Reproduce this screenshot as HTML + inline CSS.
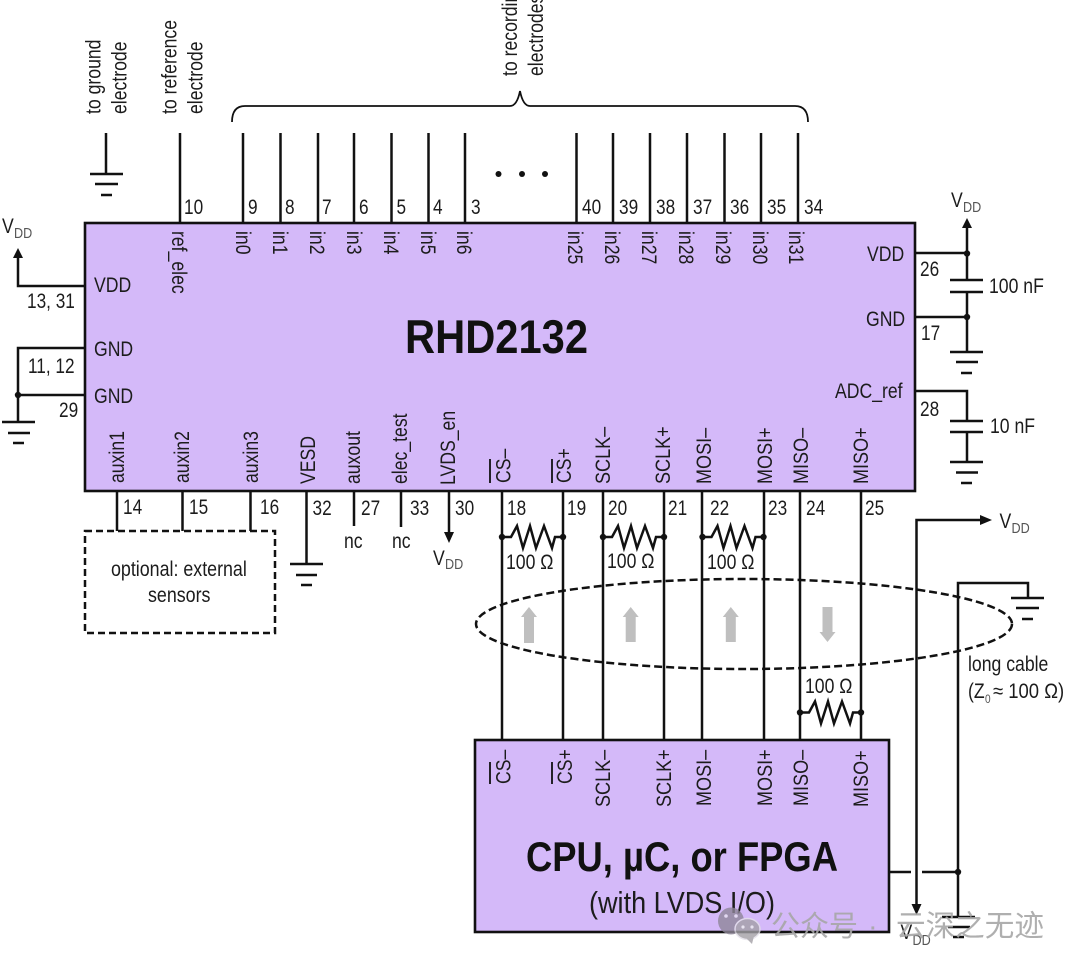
<!DOCTYPE html>
<html><head><meta charset="utf-8">
<style>
html,body{margin:0;padding:0;background:#fff;}
svg{display:block;filter:blur(.35px);}
text{font-family:"Liberation Sans","Noto Sans CJK SC",sans-serif;font-size:21px;fill:#1c1c1c;}
.l{stroke:#111;stroke-width:2.5;fill:none;}
.t{stroke:#111;stroke-width:1.8;fill:none;}
.s{font-size:15px;fill:#555;}
.a{fill:#111;}
.g{fill:#bfbfbf;}
</style></head>
<body>
<svg width="1080" height="969" viewBox="0 0 1080 969" xmlns="http://www.w3.org/2000/svg">
<rect width="1080" height="969" fill="#fff"/>
<!-- chips -->
<rect x="85" y="223" width="830" height="268" fill="#d4b9f9" stroke="#111" stroke-width="2.6"/>
<rect x="475" y="740" width="414" height="192" fill="#d4b9f9" stroke="#111" stroke-width="2.6"/>
<!-- top pins -->
<path class="l" d="M106 133V174M90 174H123M95 184H118M101 195H112
M180 133V223M243 133V223M280.5 133V223M318 133V223M354 133V223M391.5 133V223M428.5 133V223M465 133V223
M576.5 133V223M613 133V223M650 133V223M687 133V223M724.5 133V223M761 133V223M798 133V223"/>
<path class="t" d="M232 122Q232 106 245 106L510 106Q517 106 520 91Q523 106 530 106L795 106Q808 106 808 122"/>
<circle class="a" cx="498.500" cy="174" r="3"/><circle class="a" cx="522" cy="174" r="3"/><circle class="a" cx="545" cy="174" r="3"/>
<!-- top labels -->
<text transform="translate(100.500 114) rotate(-90) scale(.84 1)">to ground</text>
<text transform="translate(126.500 114) rotate(-90) scale(.84 1)">electrode</text>
<text transform="translate(176.500 114) rotate(-90) scale(.84 1)">to reference</text>
<text transform="translate(202.500 114) rotate(-90) scale(.84 1)">electrode</text>
<text transform="translate(517 76) rotate(-90) scale(.84 1)">to recording</text>
<text transform="translate(543 76) rotate(-90) scale(.84 1)">electrodes</text>
<!-- top numbers -->
<text transform="translate(184 214) scale(.82 1)">10</text>
<text transform="translate(248 214) scale(.82 1)">9</text>
<text transform="translate(285 214) scale(.82 1)">8</text>
<text transform="translate(322 214) scale(.82 1)">7</text>
<text transform="translate(359 214) scale(.82 1)">6</text>
<text transform="translate(396.500 214) scale(.82 1)">5</text>
<text transform="translate(433 214) scale(.82 1)">4</text>
<text transform="translate(471 214) scale(.82 1)">3</text>
<text transform="translate(582 214) scale(.82 1)">40</text>
<text transform="translate(619 214) scale(.82 1)">39</text>
<text transform="translate(656 214) scale(.82 1)">38</text>
<text transform="translate(693 214) scale(.82 1)">37</text>
<text transform="translate(730 214) scale(.82 1)">36</text>
<text transform="translate(767 214) scale(.82 1)">35</text>
<text transform="translate(804 214) scale(.82 1)">34</text>
<!-- inputs -->
<text transform="translate(172 231) rotate(90) scale(.84 1)">ref_elec</text>
<text transform="translate(236 231) rotate(90) scale(.84 1)">in0</text>
<text transform="translate(273 231) rotate(90) scale(.84 1)">in1</text>
<text transform="translate(310 231) rotate(90) scale(.84 1)">in2</text>
<text transform="translate(347 231) rotate(90) scale(.84 1)">in3</text>
<text transform="translate(384 231) rotate(90) scale(.84 1)">in4</text>
<text transform="translate(421 231) rotate(90) scale(.84 1)">in5</text>
<text transform="translate(457 231) rotate(90) scale(.84 1)">in6</text>
<text transform="translate(568 231) rotate(90) scale(.84 1)">in25</text>
<text transform="translate(605 231) rotate(90) scale(.84 1)">in26</text>
<text transform="translate(642 231) rotate(90) scale(.84 1)">in27</text>
<text transform="translate(679 231) rotate(90) scale(.84 1)">in28</text>
<text transform="translate(716 231) rotate(90) scale(.84 1)">in29</text>
<text transform="translate(753 231) rotate(90) scale(.84 1)">in30</text>
<text transform="translate(789 231) rotate(90) scale(.84 1)">in31</text>
<!-- titles -->
<text x="405" y="353" textLength="183" lengthAdjust="spacingAndGlyphs" style="font-size:47px;font-weight:bold;fill:#111">RHD2132</text>
<text x="526" y="871" textLength="312" lengthAdjust="spacingAndGlyphs" style="font-size:42px;font-weight:bold;fill:#111">CPU, µC, or FPGA</text>
<text x="589" y="913" textLength="186" lengthAdjust="spacingAndGlyphs" style="font-size:31px">(with LVDS I/O)</text>
<!-- left side -->
<path class="l" d="M18 257V286H85M85 348H18V422M18 395H85M2 422H35M8 433H30M13 443H24"/>
<path class="a" d="M18 248L23 258H13Z"/>
<circle class="a" cx="18" cy="395" r="3.200"/>
<text transform="translate(2 233) scale(.84 1)">V</text><text class="s" transform="translate(14 238) scale(.84 1)">DD</text>
<text transform="translate(94 292) scale(.84 1)">VDD</text>
<text transform="translate(94 356) scale(.84 1)">GND</text>
<text transform="translate(94 403) scale(.84 1)">GND</text>
<text transform="translate(27 308) scale(.82 1)">13, 31</text>
<text transform="translate(28 373) scale(.82 1)">11, 12</text>
<text transform="translate(59 417) scale(.82 1)">29</text>
<!-- right side -->
<path class="l" d="M915 253H967M967 226V280M950 280H983M950 292H983M967 292V352M915 317H967M950 352H983M956 362H978M961 373H972
M915 391H967V421M950 421H983M950 432H983M967 432V462M950 462H983M956 472.500H978M961 483H972"/>
<path class="a" d="M967 218L972 228H962Z"/>
<circle class="a" cx="967" cy="253.500" r="3.200"/><circle class="a" cx="967" cy="317" r="3.200"/>
<text transform="translate(867 261) scale(.84 1)">VDD</text>
<text transform="translate(866 326) scale(.84 1)">GND</text>
<text transform="translate(835 398) scale(.84 1)">ADC_ref</text>
<text transform="translate(920 276) scale(.82 1)">26</text>
<text transform="translate(921 340) scale(.82 1)">17</text>
<text transform="translate(920 416) scale(.82 1)">28</text>
<text transform="translate(989 293) scale(.84 1)">100 nF</text>
<text transform="translate(990 433) scale(.84 1)">10 nF</text>
<text transform="translate(951 207) scale(.84 1)">V</text><text class="s" transform="translate(963 212) scale(.84 1)">DD</text>
<!-- bottom left -->
<path class="l" d="M117 491V531M182.500 491V531M250.500 491V531M306.500 491V564M290 564H323M296 575H317M301 585H312M354 491V526M401 491V527M449 491V533"/>
<path class="a" d="M449 543L444 532H454Z"/>
<rect x="85" y="531" width="190" height="102" fill="none" stroke="#111" stroke-width="2.500" stroke-dasharray="7 4"/>
<text transform="translate(124 483) rotate(-90) scale(.84 1)">auxin1</text>
<text transform="translate(189 483) rotate(-90) scale(.84 1)">auxin2</text>
<text transform="translate(258 483) rotate(-90) scale(.84 1)">auxin3</text>
<text transform="translate(315 484) rotate(-90) scale(.84 1)">VESD</text>
<text transform="translate(360 484) rotate(-90) scale(.84 1)">auxout</text>
<text transform="translate(407 484) rotate(-90) scale(.84 1)">elec_test</text>
<text transform="translate(455 485) rotate(-90) scale(.84 1)">LVDS_en</text>
<text transform="translate(123 514) scale(.82 1)">14</text>
<text transform="translate(189 514) scale(.82 1)">15</text>
<text transform="translate(260 514) scale(.82 1)">16</text>
<text transform="translate(312.500 515) scale(.82 1)">32</text>
<text transform="translate(361 515) scale(.82 1)">27</text>
<text transform="translate(410 515) scale(.82 1)">33</text>
<text transform="translate(455 515) scale(.82 1)">30</text>
<text transform="translate(344 548) scale(.84 1)">nc</text>
<text transform="translate(392 548) scale(.84 1)">nc</text>
<text transform="translate(433 565) scale(.84 1)">V</text><text class="s" transform="translate(445 569) scale(.84 1)">DD</text>
<text transform="translate(111 576) scale(.85 1)">optional: external</text>
<text transform="translate(148 602) scale(.85 1)">sensors</text>
<!-- signal lines -->
<path class="l" d="M502 491V740M563 491V740M603 491V740M664 491V740M702 491V740M764 491V740M800 491V740M861 491V740"/>
<g>
<path class="l" d="M502 537H511L517 526L523 548L530 526L536 548L544 526L552 548L555 537H563"/>
<circle class="a" cx="502" cy="537" r="3.200"/><circle class="a" cx="563" cy="537" r="3.200"/>
</g>
<g transform="translate(101 0)">
<path class="l" d="M502 537H511L517 526L523 548L530 526L536 548L544 526L552 548L555 537H563"/>
<circle class="a" cx="502" cy="537" r="3.200"/><circle class="a" cx="563" cy="537" r="3.200"/>
</g>
<g transform="translate(200.500 0)">
<path class="l" d="M502 537H511L517 526L523 548L530 526L536 548L544 526L552 548L555 537H563"/>
<circle class="a" cx="502" cy="537" r="3.200"/><circle class="a" cx="563" cy="537" r="3.200"/>
</g>
<g transform="translate(298 175.500)">
<path class="l" d="M502 537H511L517 526L523 548L530 526L536 548L544 526L552 548L555 537H563"/>
<circle class="a" cx="502" cy="537" r="3.200"/><circle class="a" cx="563" cy="537" r="3.200"/>
</g>
<text transform="translate(506 569) scale(.84 1)">100 Ω</text>
<text transform="translate(607 568) scale(.84 1)">100 Ω</text>
<text transform="translate(707 569) scale(.84 1)">100 Ω</text>
<text transform="translate(805 693) scale(.84 1)">100 Ω</text>
<text transform="translate(507 515) scale(.82 1)">18</text>
<text transform="translate(567 515) scale(.82 1)">19</text>
<text transform="translate(608 515) scale(.82 1)">20</text>
<text transform="translate(668 515) scale(.82 1)">21</text>
<text transform="translate(710 515) scale(.82 1)">22</text>
<text transform="translate(768 515) scale(.82 1)">23</text>
<text transform="translate(806 515) scale(.82 1)">24</text>
<text transform="translate(865 515) scale(.82 1)">25</text>
<!-- upper chip bus labels -->
<text transform="translate(510.500 483) rotate(-90) scale(.84 1)">CS–</text>
<text transform="translate(571 483) rotate(-90) scale(.84 1)">CS+</text>
<path class="t" d="M490 459V483M552 459V483"/>
<text transform="translate(610 484) rotate(-90) scale(.86 1)">SCLK–</text>
<text transform="translate(670 484) rotate(-90) scale(.86 1)">SCLK+</text>
<text transform="translate(711 484) rotate(-90) scale(.86 1)">MOSI–</text>
<text transform="translate(772 484) rotate(-90) scale(.86 1)">MOSI+</text>
<text transform="translate(808 484) rotate(-90) scale(.86 1)">MISO–</text>
<text transform="translate(868 484) rotate(-90) scale(.86 1)">MISO+</text>
<!-- lower chip bus labels -->
<text transform="translate(510.500 784) rotate(-90) scale(.84 1)">CS–</text>
<text transform="translate(572 784) rotate(-90) scale(.84 1)">CS+</text>
<path class="t" d="M490 762V784M552 762V784"/>
<text transform="translate(610 807) rotate(-90) scale(.86 1)">SCLK–</text>
<text transform="translate(671 807) rotate(-90) scale(.86 1)">SCLK+</text>
<text transform="translate(711 806) rotate(-90) scale(.86 1)">MOSI–</text>
<text transform="translate(772 806) rotate(-90) scale(.86 1)">MOSI+</text>
<text transform="translate(808 806) rotate(-90) scale(.86 1)">MISO–</text>
<text transform="translate(868 807) rotate(-90) scale(.86 1)">MISO+</text>
<!-- cable ellipse and arrows -->
<ellipse cx="744" cy="624" rx="268" ry="45" fill="none" stroke="#111" stroke-width="2.500" stroke-dasharray="8 4"/>
<path class="g" d="M529 607L537 617H534V643H524V617H521Z"/>
<path class="g" d="M630.700 607L638.700 617H635.700V642H625.700V617H622.700Z"/>
<path class="g" d="M730.800 607L738.800 617H735.800V642H725.800V617H722.800Z"/>
<path class="g" d="M827.500 642L835.500 632H832.500V607H822.500V632H819.500Z"/>
<!-- right wires -->
<path class="l" d="M916.500 906V520H982M958 917V583H1028V598M1011 598H1044M1016 608H1039M1022 619H1033
M889 872H911M922 872H958M942 917H975M948 927H970M953 937H964"/>
<path class="a" d="M992 520L980 515V525Z"/>
<path class="a" d="M916.500 915L911.500 904H921.500Z"/>
<circle class="a" cx="958" cy="872" r="3.200"/>
<text transform="translate(999.500 528) scale(.84 1)">V</text><text class="s" transform="translate(1011.500 533) scale(.84 1)">DD</text>
<text transform="translate(968 671) scale(.84 1)">long cable</text>
<text transform="translate(968 698) scale(.84 1)">(Z</text><text class="s" style="font-size:12px" transform="translate(985 703) scale(.84 1)">0</text><text transform="translate(993 698) scale(.88 1)">≈ 100 Ω)</text>
<text transform="translate(900.500 939) scale(.84 1)">V</text><text class="s" transform="translate(912.500 945) scale(.84 1)">DD</text>
<!-- watermark -->
<g opacity=".8">
<ellipse cx="731" cy="921" rx="13" ry="13.500" fill="#8f8799"/>
<ellipse cx="747.500" cy="929" rx="12.500" ry="10.500" fill="#a3a0a6" stroke="#e4e0ea" stroke-width="1.500"/>
<path d="M746 938L752 944L754 936Z" fill="#a3a0a6"/>
<circle cx="726" cy="916" r="1.800" fill="#e6e0f0"/><circle cx="736" cy="916" r="1.800" fill="#e6e0f0"/>
<circle cx="743" cy="927" r="1.600" fill="#eee"/><circle cx="752" cy="927" r="1.600" fill="#eee"/>
</g>
<text x="771" y="936" style='font-size:29px;fill:#a6a6a6;fill-opacity:.9;font-family:"Noto Sans CJK SC",sans-serif'>公众号</text>
<text x="868" y="936" style='font-size:29px;fill:#a6a6a6;fill-opacity:.9;font-family:"Liberation Sans",sans-serif'>·</text>
<text x="896" y="936" style='font-size:29.600px;fill:#a6a6a6;fill-opacity:.9;font-family:"Noto Sans CJK SC",sans-serif'>云深之无迹</text>
</svg>
</body></html>
